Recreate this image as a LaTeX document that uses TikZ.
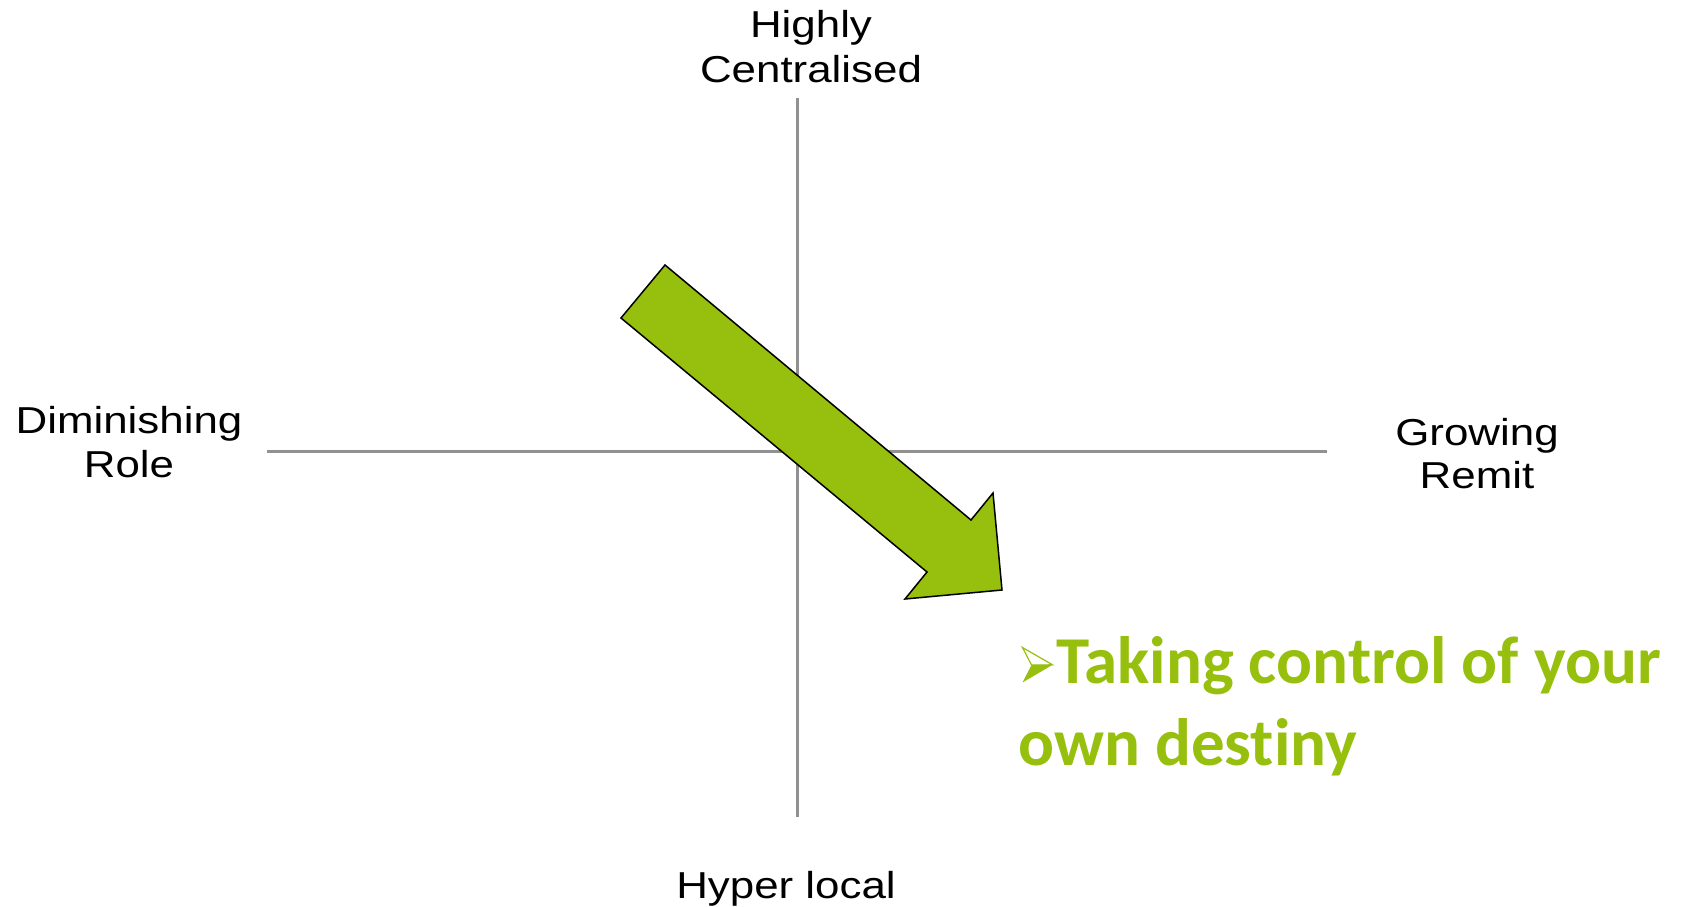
\documentclass[tikz,border=0pt]{standalone}
\usepackage{fontspec}
\setmainfont{Liberation Sans}
\newfontfamily\widearial[FakeStretch=1.17]{Liberation Sans}
\newfontfamily\carlito[Ligatures=NoCommon]{Carlito}
\definecolor{leaf}{RGB}{151,191,13}
\definecolor{axisgrey}{RGB}{145,145,145}
\begin{document}
\begin{tikzpicture}[x=1pt,y=-1pt,
  axis/.style={draw=axisgrey,line width=3pt},
  lbl/.style={font=\widearial\fontsize{37.5}{44}\selectfont, anchor=base, inner sep=0pt, text=black},
  gtext/.style={font=\carlito\bfseries\fontsize{67}{82}\selectfont, anchor=base west, inner sep=0pt, text=leaf},
  bigarrow/.style={fill=leaf, draw=black, line width=1.5pt, line join=miter}]
\useasboundingbox (0,0) rectangle (1682,906);
% axes
\coordinate (L) at (267,451);
\coordinate (R) at (1327,451);
\coordinate (T) at (797,98);
\coordinate (B) at (797,817);
\draw[axis] (L) -- (R);
\draw[axis] (T) -- (B);
% axis labels
\node[lbl] (hc1) at (811,37) {Highly};
\node[lbl] (hc2) at (811,82) {Centralised};
\node[lbl] (dr1) at (129,433) {Diminishing};
\node[lbl] (dr2) at (129,477) {Role};
\node[lbl] (gr1) at (1477,445) {Growing};
\node[lbl] (gr2) at (1477,488) {Remit};
\node[lbl] (hl) at (786,898) {Hyper local};
% big arrow
\coordinate (a1) at (665,265);
\coordinate (a2) at (971,520);
\coordinate (a3) at (993,493);
\coordinate (a4) at (1002,590);
\coordinate (a5) at (905,599);
\coordinate (a6) at (927,572);
\coordinate (a7) at (621,318);
\draw[bigarrow] (a1) -- (a2) -- (a3) -- (a4) -- (a5) -- (a6) -- (a7) -- cycle;
% bullet
\coordinate (btl) at (1022.5,647.5);
\coordinate (btip) at (1052.5,664.8);
\coordinate (bbl) at (1022.5,682.5);
\coordinate (bn) at (1031.5,665);
\fill[leaf] (bn) -- (btip) -- (bbl) -- cycle;
\draw[leaf, line width=1.2pt, line join=miter] (btl) -- (btip) -- (bn) -- cycle;
% green text
\node[gtext] (g1) at (1056,683) {Taking control of your};
\node[gtext] (g2) at (1018,765) {own destiny};
\end{tikzpicture}
\end{document}
